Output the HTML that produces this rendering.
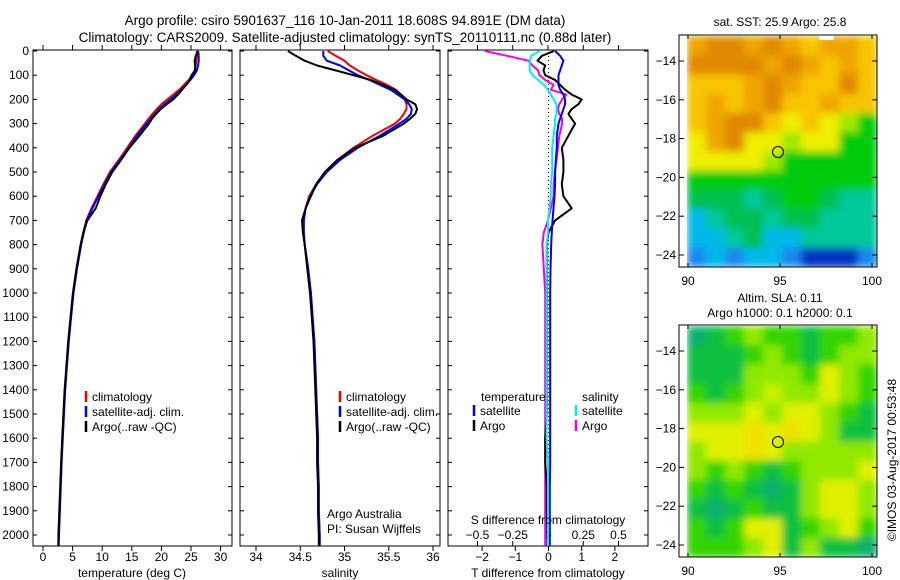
<!DOCTYPE html>
<html><head><meta charset="utf-8"><style>
html,body{margin:0;padding:0;background:#fff;}
svg{display:block;font-family:"Liberation Sans",sans-serif;}
text{font-size:12px;fill:#000;}
</style></head><body>
<svg id="fig" width="900" height="580" viewBox="0 0 900 580">
<defs>
<filter id="bl" x="0" y="0" width="1" height="1"><feGaussianBlur stdDeviation="4" edgeMode="duplicate"/></filter>
<clipPath id="c1"><rect x="687" y="36" width="190" height="231"/></clipPath>
<clipPath id="c2"><rect x="687" y="326" width="190" height="231"/></clipPath>
</defs>
<text x="345" y="25" text-anchor="middle" style="font-size:13.5px">Argo profile: csiro 5901637_116 10-Jan-2011 18.608S 94.891E (DM data)</text>
<text x="345" y="42" text-anchor="middle" style="font-size:13.5px">Climatology: CARS2009. Satellite-adjusted climatology: synTS_20110111.nc (0.88d later)</text>
<g id="g"></g>
</svg>
<script>
// ---- data ----
const depths = [0,20,40,60,80,100,120,140,160,180,200,220,240,260,280,300,350,400,450,500,550,600,650,700,750,800,900,1000,1100,1200,1300,1400,1500,1600,1700,1800,1900,2000,2045];
const tempClim = [26,26,25.9,25.8,25.6,25.2,24.6,23.8,23,22,21,20,19.2,18.5,17.8,17.2,15.6,14.2,12.8,11.3,10.2,9.2,8.2,7.3,6.8,6.4,5.7,5.1,4.7,4.3,4.0,3.7,3.5,3.3,3.1,2.95,2.8,2.65,2.6];
const tempSat = [26.2,26.3,26.3,26.2,26,25.5,24.9,24.1,23.4,22.5,21.5,20.5,19.6,18.9,18.2,17.5,15.9,14.5,13,11.5,10.4,9.35,8.35,7.4,6.9,6.45,5.75,5.15,4.75,4.35,4.05,3.75,3.55,3.35,3.15,3.0,2.85,2.7,2.65];
const tempArgo = [26.2,25.8,25.6,25.7,25.7,25.1,24.8,24.2,23.5,22.8,22,20.9,19.9,19.1,18.4,17.9,16.3,14.6,13.2,11.7,10.6,9.7,8.9,7.5,6.8,6.35,5.65,5.05,4.65,4.25,3.95,3.65,3.45,3.25,3.05,2.9,2.75,2.6,2.6];
const salClim = [34.81,34.9,35.0,35.06,35.15,35.25,35.36,35.48,35.58,35.64,35.68,35.7,35.7,35.67,35.63,35.57,35.32,35.1,34.92,34.78,34.68,34.6,34.56,34.54,34.54,34.55,34.59,34.62,34.64,34.66,34.67,34.68,34.69,34.7,34.7,34.71,34.71,34.72,34.72];
const salSat = [34.76,34.76,34.8,34.95,35.05,35.15,35.28,35.4,35.52,35.6,35.68,35.73,35.76,35.75,35.7,35.62,35.4,35.15,34.95,34.8,34.69,34.61,34.56,34.54,34.54,34.55,34.59,34.62,34.64,34.66,34.67,34.68,34.69,34.7,34.7,34.71,34.71,34.72,34.72];
const salArgo = [34.36,34.45,34.55,34.69,34.9,35.1,35.3,35.44,35.56,35.64,35.7,35.8,35.82,35.8,35.74,35.67,35.44,35.12,34.92,34.78,34.68,34.62,34.56,34.52,34.53,34.55,34.58,34.61,34.63,34.65,34.66,34.67,34.68,34.69,34.69,34.7,34.7,34.71,34.71];
const tDiffSat = [0.2,0.35,0.45,0.4,0.35,0.3,0.3,0.3,0.35,0.45,0.5,0.5,0.45,0.4,0.35,0.3,0.25,0.25,0.22,0.2,0.2,0.18,0.15,0.12,0.1,0.08,0.06,0.05,0.05,0.05,0.05,0.05,0.05,0.05,0.05,0.04,0.04,0.04,0.04];
const tDiffArgo = [0.17,-0.2,-0.33,-0.1,-0.15,-0.1,0.2,0.35,0.5,0.7,1.0,0.9,0.7,0.6,0.7,0.8,0.6,0.4,0.45,0.45,0.4,0.45,0.7,0.2,0.0,-0.05,-0.05,-0.05,-0.05,-0.05,-0.05,-0.05,-0.05,-0.1,-0.1,-0.05,-0.05,-0.03,-0.03];
const sDiffSat = [-0.06,-0.12,-0.13,-0.13,-0.13,-0.11,-0.07,-0.03,0.0,0.02,0.04,0.06,0.06,0.06,0.05,0.05,0.04,0.03,0.03,0.03,0.02,0.02,0.01,0.0,0.0,-0.01,-0.01,-0.01,-0.01,-0.01,-0.01,-0.01,-0.01,-0.01,0,0,0,0,0];
const sDiffArgo = [-0.45,-0.29,-0.14,-0.11,-0.07,-0.06,-0.02,0.04,0.02,0.13,0.1,0.08,0.07,0.08,0.1,0.1,0.08,0.07,0.06,0.05,0.04,0.04,0.02,0.0,-0.03,-0.04,-0.03,-0.02,-0.02,-0.02,-0.02,-0.02,-0.02,-0.02,-0.02,-0.02,-0.02,-0.02,-0.02];
const depthTicks = [0,100,200,300,400,500,600,700,800,900,1000,1100,1200,1300,1400,1500,1600,1700,1800,1900,2000];
const tempTicks = [0,5,10,15,20,25,30];
const salTicks = [34,34.5,35,35.5,36];
const tdTicks = [-2,-1,0,1,2];
const sdTicks = [-0.5,-0.25,0,0.25,0.5];
const sdTickLabels = ["\u22120.5","\u22120.25","0","0.25","0.5"];
const latTicks = [-14,-16,-18,-20,-22,-24];
const lonTicks = [90,95,100];
const sstGrid = [
"oOOoOoyooy","OOOOoOoyoy","yyyoOoyyOy","yoyoOyyoyy","yoOOyYyYLG",
"YoOYYLYYGG","YYYYLGGGGG","GGGGGGGGGG","gggTgGGgTT","CTggTggTTT","CCTgCCTTTT","BCBCCBDDDB"];
const slaGrid = [
"tgGLGGgGGL","gggGLGgGLL","gggLLLGYLG","GgGLyLLYLG","LLLYLYYLGg",
"YYYoYoYLgg","LYYoYLLLLL","LGLGgGLLLY","GgGgtgLYYL","gtgGggLYYL","GgGYYgGLYG","GGGLYgLggt"];
const sstPal = {O:"#e08800",o:"#f0a400",y:"#f8c400",Y:"#eeee00",L:"#a0e800",G:"#00cc10",g:"#00c050",T:"#00c898",C:"#00b8e8",B:"#1888f0",D:"#0030c0"};
const slaPal = {G:"#30d400",g:"#10c040",t:"#10b070",L:"#90e800",y:"#c8f000",Y:"#e0f000",o:"#f0e000"};

// ---- scales ----
const yD = d => 51 + d*0.242;
const xT = t => 43 + t*5.92;
const xS = s => 256 + (s-34)*88.5;
const xTD = t => 548.5 + t*33.2;
const xSD = s => 548 + s*141;
const latY1 = l => 61 + (-14 - l)*19.4;
const latY2 = l => 351 + (-14 - l)*19.4;
const lonX = l => 688 + (l-90)*18.4;

const NS="http://www.w3.org/2000/svg";
const G=document.getElementById('g');
function mk(tag,attrs,parent){const e=document.createElementNS(NS,tag);for(const k in attrs)e.setAttribute(k,attrs[k]);(parent||G).appendChild(e);return e;}
function txt(x,y,s,anchor){const e=mk('text',{x:x,y:y,'text-anchor':anchor||'start'});e.textContent=s;return e;}

function series(xs,xf,color,w,name){
  const pts=depths.map((d,i)=>xf(xs[i]).toFixed(1)+','+yD(d).toFixed(1)).join(' ');
  const e=mk('polyline',{points:pts,fill:'none',stroke:color,'stroke-width':w,'stroke-linejoin':'round'});
  
  
}
function frame(x0,x1,name){
  const e=mk('rect',{x:x0,y:50,width:x1-x0,height:496,fill:'none',stroke:'#000','stroke-width':1});
  
  
  depthTicks.forEach(d=>{mk('line',{x1:x0,x2:x0+4,y1:yD(d),y2:yD(d),stroke:'#000'});mk('line',{x1:x1-4,x2:x1,y1:yD(d),y2:yD(d),stroke:'#000'});});
}
function legendBar(x,y,color){mk('line',{x1:x,x2:x,y1:y-10,y2:y+1,stroke:color,'stroke-width':2.5});}

// depth labels
depthTicks.forEach(d=>{const t=txt(29,yD(d)+4,String(d),'end');
  
  });

// panel 1 temperature
frame(33,232,'temperature-panel');
tempTicks.forEach(v=>{const x=xT(v);mk('line',{x1:x,x2:x,y1:546,y2:551,stroke:'#000'});mk('line',{x1:x,x2:x,y1:50,y2:45,stroke:'#000'});
  const t=txt(x,561,String(v),'middle');
  
  });
series(tempClim,xT,'#f00000',2,'temperature-climatology-line');
series(tempSat,xT,'#0000f0',2,'temperature-satellite-line');
series(tempArgo,xT,'#000',2,'temperature-argo-line');
{const t=txt(132,577,'temperature (deg C)','middle');}
[['#f00000','climatology'],['#0000f0','satellite-adj. clim.'],['#000','Argo(..raw -QC)']].forEach((l,i)=>{
  legendBar(86,401+i*15,l[0]);const t=txt(92,401+i*15,l[1]);
  
  });

// panel 2 salinity
frame(240,440,'salinity-panel');
salTicks.forEach(v=>{const x=xS(v);mk('line',{x1:x,x2:x,y1:546,y2:551,stroke:'#000'});mk('line',{x1:x,x2:x,y1:50,y2:45,stroke:'#000'});
  const t=txt(x,561,String(v),'middle');
  
  });
series(salClim,xS,'#f00000',2,'salinity-climatology-line');
series(salSat,xS,'#0000f0',2,'salinity-satellite-line');
series(salArgo,xS,'#000',2,'salinity-argo-line');
{const t=txt(340,577,'salinity','middle');}
[['#f00000','climatology'],['#0000f0','satellite-adj. clim.'],['#000','Argo(..raw -QC)']].forEach((l,i)=>{
  legendBar(340,401+i*15,l[0]);const t=txt(346,401+i*15,l[1]);
  
  });
{const t=txt(327,518,'Argo Australia');}
{const t=txt(327,533,'PI: Susan Wijffels');}

// panel 3 differences
frame(448,648,'difference-panel');
mk('line',{x1:548.5,x2:548.5,y1:52,y2:546,stroke:'#000','stroke-dasharray':'1,3'});
tdTicks.forEach(v=>{const x=xTD(v);mk('line',{x1:x,x2:x,y1:546,y2:551,stroke:'#000'});
  const t=txt(x,561,String(v).replace('-','\u2212'),'middle');
  
  });
sdTicks.forEach((v,i)=>{const x=xSD(v);mk('line',{x1:x,x2:x,y1:546,y2:541,stroke:'#000'});mk('line',{x1:x,x2:x,y1:50,y2:45,stroke:'#000'});
  const t=txt(x,539,sdTickLabels[i],'middle');
  
  });
series(sDiffArgo,xSD,'#f000f0',2,'s-diff-argo-line');
series(tDiffArgo,xTD,'#000',2,'t-diff-argo-line');
series(tDiffSat,xTD,'#0000f0',2,'t-diff-satellite-line');
series(sDiffSat,xSD,'#00f0f0',2,'s-diff-satellite-line');
{const t=txt(548,524,'S difference from climatology','middle');}
{const t=txt(548,577,'T difference from climatology','middle');}
{const t=txt(481,401,'temperature');}
{const t=txt(582,401,'salinity');}
legendBar(474,415,'#0000f0');legendBar(474,430,'#000');legendBar(576,415,'#00f0f0');legendBar(576,430,'#f000f0');
[[480,415,'satellite'],[480,430,'Argo'],[582,415,'satellite'],[582,430,'Argo']].forEach(l=>{const t=txt(l[0],l[1],l[2]);
  
  });

// maps
function map(grid,pal,top,latY,clip,name,circY){
  const g=mk('g',{'clip-path':'url(#'+clip+')'});
  const inner=mk('g',{filter:'url(#bl)'},g);
  const cw=190/10,ch=231/12;
  grid.forEach((row,r)=>{for(let c=0;c<10;c++){mk('rect',{x:687+c*cw,y:top+1+r*ch,width:cw+0.5,height:ch+0.5,fill:pal[row[c]]},inner);}});
  
  
  mk('rect',{x:679,y:top,width:198,height:232,fill:'none',stroke:'#000'});
  latTicks.forEach(l=>{const y=latY(l);mk('line',{x1:679,x2:684,y1:y,y2:y,stroke:'#000'});mk('line',{x1:872,x2:877,y1:y,y2:y,stroke:'#000'});
    const t=txt(676,y+4,String(l).replace('-','\u2212'),'end');
    
    });
  lonTicks.forEach(l=>{const x=lonX(l);mk('line',{x1:x,x2:x,y1:top,y2:top+4,stroke:'#000'});mk('line',{x1:x,x2:x,y1:top+232,y2:top+228,stroke:'#000'});
    const t=txt(x,top+250,String(l),'middle');
    
    });
  const c=mk('circle',{cx:778,cy:circY,r:5.5,fill:'none',stroke:'#000','stroke-width':1});
  
  
}
map(sstGrid,sstPal,35,latY1,'c1','sst-map',152);
mk('rect',{x:819,y:36,width:15,height:4,fill:'#fff'});
map(slaGrid,slaPal,325,latY2,'c2','sla-map',442);
{const t=txt(780,26,'sat. SST: 25.9 Argo: 25.8','middle');}
{const t=txt(780,302,'Altim. SLA: 0.11','middle');}
{const t=txt(780,317,'Argo h1000: 0.1 h2000: 0.1','middle');}
{const t=txt(0,0,'\u00a9IMOS 03-Aug-2017 00:53:48','middle');t.setAttribute('transform','translate(896,460) rotate(-90)');
 }
</script>
</body></html>
